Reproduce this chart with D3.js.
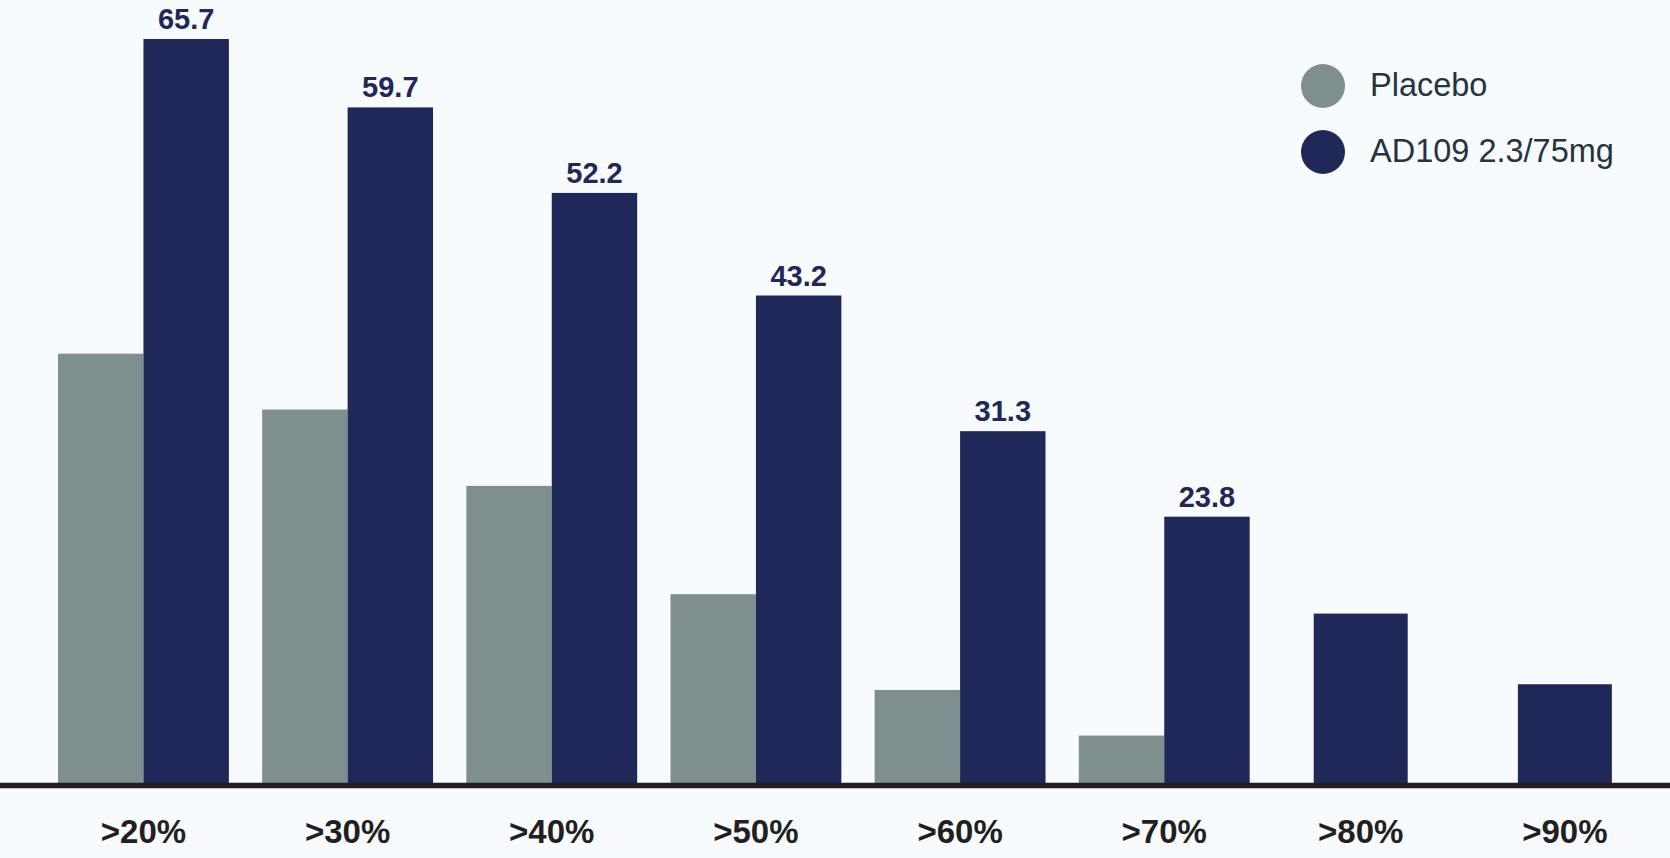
<!DOCTYPE html>
<html>
<head>
<meta charset="utf-8">
<script src="https://cdn.jsdelivr.net/npm/d3@7"></script>
<style>
    html, body { margin: 0; padding: 0; background: #f8fbfe; }
    svg { display: block; }
</style>
</head>
<body>
<div class="chart"></div>
<script>
// Data
const categories = ['>20%', '>30%', '>40%', '>50%', '>60%', '>70%', '>80%', '>90%'];
const seriesNames = ['Placebo', 'AD109 2.3/75mg'];
const placeboValues = [38.1, 33.2, 26.5, 17.0, 8.6, 4.6, null, null];
const ad109Values = [65.7, 59.7, 52.2, 43.2, 31.3, 23.8, 15.3, 9.1];
const ad109Labels = ['65.7', '59.7', '52.2', '43.2', '31.3', '23.8', '', ''];

const WIDTH = 1670;
const HEIGHT = 858;

const color = d3.scaleOrdinal()
    .domain(seriesNames)
    .range(['#7f8f8f', '#1f2858']);

const svg = d3.select('.chart')
    .append('svg')
    .attr('width', WIDTH)
    .attr('height', HEIGHT);

svg.append('rect')
    .attr('width', WIDTH)
    .attr('height', HEIGHT)
    .attr('fill', '#f8fbfe');

// Scales
const xScale = d3.scaleBand()
    .domain(categories)
    .range([58, 1658])
    .paddingInner(0.163)
    .paddingOuter(0);

const xInner = d3.scaleBand()
    .domain(seriesNames)
    .range([0, xScale.bandwidth()])
    .padding(0);

const yScale = d3.scaleLinear()
    .domain([0, 70])
    .range([788, 788 - 70 * 11.4]);

// build rows for the bars, groups with one series get a single wider bar
const rows = [];
categories.forEach((cat, i) => {
    const vals = [placeboValues[i], ad109Values[i]];
    const present = seriesNames.filter((s, j) => vals[j] != null);
    seriesNames.forEach((s, j) => {
        if (vals[j] == null) return;
        let x, w;
        if (present.length === 2) {
            x = xScale(cat) + xInner(s);
            w = xInner.bandwidth();
        } else {
            w = xInner.bandwidth() * 1.1;
            x = xScale(cat) + xInner.bandwidth() * 0.36;
        }
        rows.push({ category: cat, series: s, value: vals[j], x: x, w: w, label: j === 1 ? ad109Labels[i] : '' });
    });
});

// Bars
svg.selectAll('rect.bar')
    .data(rows)
    .join('rect')
        .attr('class', 'bar')
        .attr('x', d => d.x)
        .attr('y', d => yScale(d.value))
        .attr('width', d => d.w)
        .attr('height', d => yScale(0) - yScale(d.value))
        .attr('fill', d => color(d.series));

// Value labels on top of AD109 bars
svg.selectAll('text.bar-text')
    .data(rows.filter(d => d.label))
    .join('text')
        .attr('class', 'bar-text')
        .text(d => d.label)
        .attr('x', d => d.x + d.w / 2)
        .attr('y', d => yScale(d.value) - 10)
        .attr('text-anchor', 'middle')
        .style('font-family', '"Liberation Sans", Arial, sans-serif')
        .style('font-weight', 'bold')
        .style('font-size', '29px')
        .attr('fill', '#1f2858');

// Baseline
svg.append('line')
    .attr('x1', 0)
    .attr('x2', WIDTH)
    .attr('y1', 785.5)
    .attr('y2', 785.5)
    .attr('stroke', '#231f20')
    .attr('stroke-width', 5.5);

// X labels, centered under the bars of each group
svg.selectAll('text.x-label')
    .data(categories)
    .join('text')
        .attr('class', 'x-label')
        .text(d => d)
        .attr('x', d => {
            const r = rows.filter(b => b.category === d);
            const x0 = d3.min(r, b => b.x);
            const x1 = d3.max(r, b => b.x + b.w);
            return (x0 + x1) / 2;
        })
        .attr('y', 843)
        .attr('text-anchor', 'middle')
        .style('font-family', '"Liberation Sans", Arial, sans-serif')
        .style('font-weight', 'bold')
        .style('font-size', '33px')
        .attr('fill', '#231f20');

// Legend
const legend = svg.selectAll('g.legend')
    .data(seriesNames)
    .join('g')
        .attr('class', 'legend')
        .attr('transform', (d, i) => `translate(1323, ${86 + i * 66})`);

legend.append('circle')
    .attr('r', 22)
    .attr('fill', d => color(d));

legend.append('text')
    .text(d => d)
    .attr('x', 47)
    .attr('y', 10)
    .style('font-family', '"Liberation Sans", Arial, sans-serif')
    .style('font-size', '32.5px')
    .attr('fill', '#263340');
</script>
</body>
</html>
